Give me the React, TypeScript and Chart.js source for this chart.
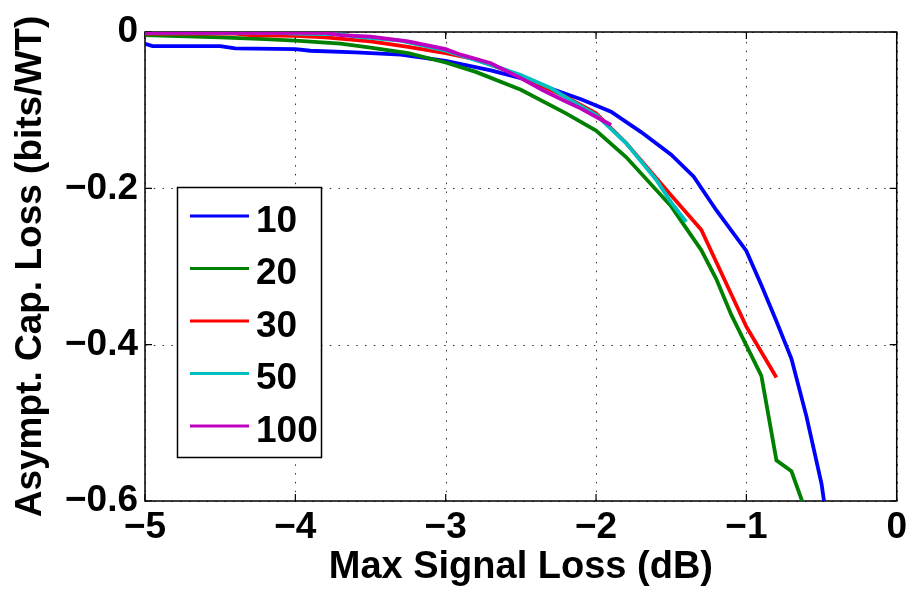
import React, { useEffect, useRef } from "react";
import { Chart, registerables } from "chart.js";

Chart.register(...registerables);

// ---- data ----
const SERIES_LABELS = ["10", "20", "30", "50", "100"];
const SERIES_COLORS = ["#0000ff", "#008000", "#ff0000", "#00bfbf", "#bf00bf"];

const X_10 = [-5, -4.95, -4.5, -4.4, -4, -3.9, -3.6, -3.3, -3, -2.7, -2.5, -2.1, -1.9, -1.7, -1.5, -1.35, -1.2, -1.0, -0.9, -0.8, -0.7, -0.6, -0.5, -0.48];
const Y_10 = [-0.015, -0.018, -0.018, -0.021, -0.022, -0.024, -0.026, -0.029, -0.037, -0.049, -0.059, -0.086, -0.102, -0.128, -0.157, -0.185, -0.228, -0.28, -0.324, -0.37, -0.418, -0.492, -0.578, -0.605];

const X_20 = [-5, -4.5, -4.2, -4, -3.7, -3.5, -3.25, -3, -2.8, -2.5, -2.2, -2.0, -1.8, -1.5, -1.3, -1.2, -1.1, -0.9, -0.8, -0.7, -0.62];
const Y_20 = [-0.004, -0.007, -0.009, -0.011, -0.015, -0.02, -0.027, -0.039, -0.051, -0.074, -0.104, -0.126, -0.16, -0.223, -0.279, -0.316, -0.362, -0.44, -0.548, -0.562, -0.605];

const X_30 = [-5, -4.4, -4.3, -4, -3.8, -3.5, -3.25, -3, -2.8, -2.6, -2.4, -2.2, -2.0, -1.8, -1.5, -1.3, -1.0, -0.8];
const Y_30 = [-0.002, -0.002, -0.004, -0.005, -0.007, -0.012, -0.019, -0.027, -0.035, -0.049, -0.066, -0.083, -0.104, -0.142, -0.209, -0.253, -0.377, -0.442];

const X_50 = [-5, -4.1, -4, -3.7, -3.6, -3.3, -3, -2.7, -2.5, -2.3, -2.1, -2.0, -1.8, -1.6, -1.5, -1.4];
const Y_50 = [-0.001, -0.001, -0.002, -0.003, -0.006, -0.011, -0.024, -0.042, -0.055, -0.072, -0.095, -0.106, -0.142, -0.189, -0.218, -0.243];

const X_100 = [-5, -3.8, -3.7, -3.5, -3.25, -3, -2.9, -2.7, -2.5, -2.35, -2.2, -2.1, -1.9];
const Y_100 = [-0.001, -0.001, -0.004, -0.006, -0.012, -0.022, -0.029, -0.04, -0.059, -0.075, -0.089, -0.098, -0.119];

const SERIES_X = [X_10, X_20, X_30, X_50, X_100];
const SERIES_Y = [Y_10, Y_20, Y_30, Y_50, Y_100];

const X_TICKS = [-5, -4, -3, -2, -1, 0];
const Y_TICKS = [-0.6, -0.4, -0.2, 0];

const X_TITLE = "Max Signal Loss (dB)";
const Y_TITLE = "Asympt. Cap. Loss (bits/WT)";

const FONT = "'Liberation Sans', Arial, Helvetica, sans-serif";

const fmt = (v: number) => (v === 0 ? "0" : (v < 0 ? "\u2212" : "") + String(Math.abs(v)));

// grid + box + inward ticks, drawn under the data (MATLAB style)
const axesPlugin = {
  id: "matlabAxes",
  beforeDatasetsDraw(chart: any) {
    const { ctx, chartArea } = chart;
    const { left, right, top, bottom } = chartArea;
    const xs = chart.scales.x;
    const ys = chart.scales.y;
    ctx.save();
    ctx.strokeStyle = "#333";
    ctx.lineWidth = 1;
    ctx.setLineDash([1.5, 7.3]);
    X_TICKS.forEach((v) => {
      const px = Math.round(xs.getPixelForValue(v)) + 0.5;
      ctx.beginPath();
      ctx.moveTo(px, bottom);
      ctx.lineTo(px, top);
      ctx.stroke();
    });
    Y_TICKS.forEach((v) => {
      const py = Math.round(ys.getPixelForValue(v)) + 0.5;
      ctx.beginPath();
      ctx.moveTo(left, py);
      ctx.lineTo(right, py);
      ctx.stroke();
    });
    ctx.setLineDash([]);
    ctx.strokeStyle = "#000";
    ctx.lineWidth = 1.5;
    ctx.strokeRect(left, top, right - left, bottom - top);
    const TL = 7;
    ctx.lineWidth = 1.2;
    X_TICKS.forEach((v) => {
      const px = xs.getPixelForValue(v);
      ctx.beginPath();
      ctx.moveTo(px, bottom);
      ctx.lineTo(px, bottom - TL);
      ctx.moveTo(px, top);
      ctx.lineTo(px, top + TL);
      ctx.stroke();
    });
    Y_TICKS.forEach((v) => {
      const py = ys.getPixelForValue(v);
      ctx.beginPath();
      ctx.moveTo(left, py);
      ctx.lineTo(left + TL, py);
      ctx.moveTo(right, py);
      ctx.lineTo(right - TL, py);
      ctx.stroke();
    });
    ctx.restore();
  },
};

// MATLAB-style boxed legend inside the axes
const legendPlugin = {
  id: "boxLegend",
  afterDatasetsDraw(chart: any) {
    const { ctx } = chart;
    const bx = 177.5, by = 187.5, bw = 144, bh = 270;
    ctx.save();
    ctx.fillStyle = "#fff";
    ctx.fillRect(bx, by, bw, bh);
    ctx.strokeStyle = "#000";
    ctx.lineWidth = 1.5;
    ctx.strokeRect(bx, by, bw, bh);
    ctx.font = `bold 37px ${FONT}`;
    ctx.textAlign = "left";
    ctx.textBaseline = "middle";
    SERIES_LABELS.forEach((lab, i) => {
      const y = 216 + i * 52.5;
      ctx.strokeStyle = SERIES_COLORS[i];
      ctx.lineWidth = 3;
      ctx.beginPath();
      ctx.moveTo(190, y);
      ctx.lineTo(249, y);
      ctx.stroke();
      ctx.fillStyle = "#000";
      ctx.fillText(lab, 256, y + 5.5);
    });
    ctx.restore();
  },
};

export default function App() {
  const ref = useRef<HTMLCanvasElement | null>(null);

  useEffect(() => {
    if (!ref.current) return;
    const n = SERIES_LABELS.length;
    const datasets = SERIES_LABELS.map((lab, i) => ({
      label: lab,
      data: SERIES_X[i].map((x, k) => ({ x, y: SERIES_Y[i][k] })),
      borderColor: SERIES_COLORS[i],
      backgroundColor: SERIES_COLORS[i],
      borderWidth: 3.8,
      pointRadius: 0,
      tension: 0,
      fill: false,
      order: n - i,
    }));

    const chart = new Chart(ref.current, {
      type: "line",
      data: { datasets },
      options: {
        animation: false,
        responsive: false,
        maintainAspectRatio: false,
        layout: { padding: { left: 0, top: 32, right: 15, bottom: 0 } },
        plugins: {
          legend: { display: false },
          tooltip: { enabled: false },
        },
        scales: {
          x: {
            type: "linear",
            min: -5,
            max: 0,
            afterBuildTicks: (s: any) => {
              s.ticks = X_TICKS.map((v) => ({ value: v }));
            },
            afterFit: (s: any) => {
              s.height = 96;
            },
            grid: { display: false, drawTicks: false },
            border: { display: false },
            ticks: {
              autoSkip: false,
              maxRotation: 0,
              padding: 5,
              color: "#000",
              font: { family: FONT, size: 37, weight: "bold" },
              callback: (v: any) => fmt(Number(v)),
            },
            title: {
              display: true,
              text: X_TITLE,
              color: "#000",
              font: { family: FONT, size: 38, weight: "bold" },
              padding: { top: 0, bottom: 7 },
            },
          },
          y: {
            type: "linear",
            min: -0.6,
            max: 0,
            afterBuildTicks: (s: any) => {
              s.ticks = Y_TICKS.map((v) => ({ value: v }));
            },
            afterFit: (s: any) => {
              s.width = 145;
            },
            grid: { display: false, drawTicks: false },
            border: { display: false },
            ticks: {
              autoSkip: false,
              padding: 7,
              color: "#000",
              font: { family: FONT, size: 37, weight: "bold" },
              callback: (v: any) => fmt(Number(v)),
            },
            title: {
              display: true,
              text: Y_TITLE,
              color: "#000",
              font: { family: FONT, size: 37, weight: "bold" },
              padding: { top: 9, bottom: 0 },
            },
          },
        },
      } as any,
      plugins: [axesPlugin, legendPlugin],
    });
    return () => chart.destroy();
  }, []);

  return (
    <div style={{ position: "fixed", left: 0, top: 0, width: 912, height: 597, background: "#fff" }}>
      <canvas ref={ref} width={912} height={597} style={{ display: "block", width: 912, height: 597 }} />
    </div>
  );
}
